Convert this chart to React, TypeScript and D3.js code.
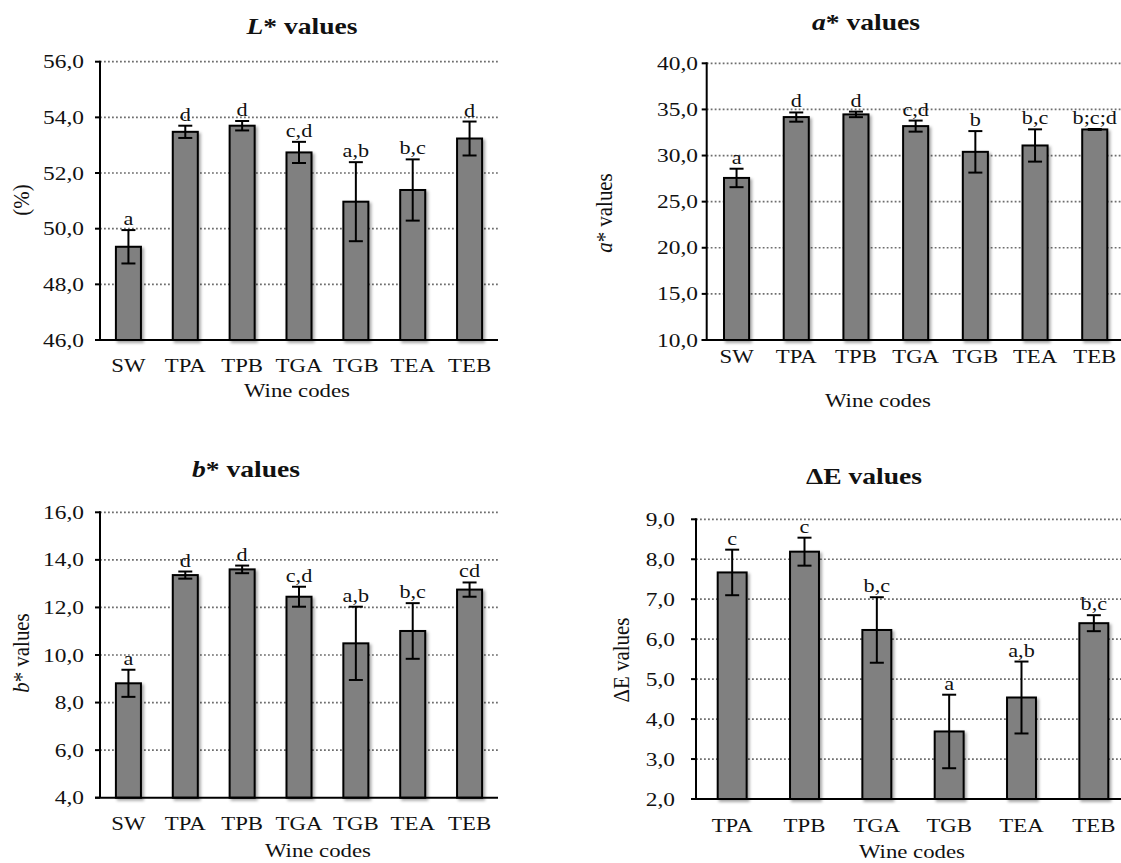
import React from "react";
import * as d3 from "d3";

// ---------- data ----------
const wineCodes = ["SW", "TPA", "TPB", "TGA", "TGB", "TEA", "TEB"];
const deltaCodes = ["TPA", "TPB", "TGA", "TGB", "TEA", "TEB"];

const lMeans = [49.35, 53.48, 53.7, 52.74, 50.97, 51.39, 53.24];
const lErrors = [0.6, 0.22, 0.17, 0.38, 1.42, 1.1, 0.61];
const lLetters = ["a", "d", "d", "c,d", "a,b", "b,c", "d"];
const lTicks = [46, 48, 50, 52, 54, 56];

const aMeans = [27.57, 34.17, 34.46, 33.19, 30.4, 31.09, 32.83];
const aErrors = [1.0, 0.5, 0.3, 0.6, 2.25, 1.75, 0.05];
const aLetters = ["a", "d", "d", "c,d", "b", "b,c", "b;c;d"];
const aTicks = [10, 15, 20, 25, 30, 35, 40];

const bMeans = [8.81, 13.36, 13.6, 12.45, 10.49, 11.01, 12.75];
const bErrors = [0.57, 0.15, 0.16, 0.42, 1.54, 1.17, 0.3];
const bLetters = ["a", "d", "d", "c,d", "a,b", "b,c", "cd"];
const bTicks = [4, 6, 8, 10, 12, 14, 16];

const eMeans = [7.67, 8.19, 6.23, 3.69, 4.54, 6.4];
const eErrors = [0.57, 0.35, 0.82, 0.92, 0.9, 0.2];
const eLetters = ["c", "c", "b,c", "a", "a,b", "b,c"];
const eTicks = [2, 3, 4, 5, 6, 7, 8, 9];

// ---------- layout ----------
const FONT = "Liberation Serif, Times New Roman, serif";
const SX = 1.2;

type Panel = {
  cats: string[];
  means: number[];
  errs: number[];
  letters: string[];
  ticks: number[];
  title: React.ReactNode;
  ylabel: React.ReactNode;
  left: number;
  right: number;
  top: number;
  bottom: number;
  pad: number;
  titleX: number;
  titleY: number;
  ylabX: number;
  ylabY: number;
  tickRight: number;
  catY: number;
  wcX: number;
  wcY: number;
};

const panels: Panel[] = [
  {
    cats: wineCodes, means: lMeans, errs: lErrors, letters: lLetters, ticks: lTicks,
    title: (<><tspan fontStyle="italic">L</tspan>* values</>),
    ylabel: "(%)",
    left: 100, right: 498, top: 61.7, bottom: 340, pad: 0.56,
    titleX: 302, titleY: 34, ylabX: 29, ylabY: 200, tickRight: 84,
    catY: 372, wcX: 297, wcY: 397,
  },
  {
    cats: wineCodes, means: aMeans, errs: aErrors, letters: aLetters, ticks: aTicks,
    title: (<><tspan fontStyle="italic">a</tspan>* values</>),
    ylabel: (<><tspan fontStyle="italic">a</tspan>* values</>),
    left: 706.7, right: 1124.6, top: 63.3, bottom: 340, pad: 0.58,
    titleX: 866, titleY: 30, ylabX: 612, ylabY: 213, tickRight: 698,
    catY: 363, wcX: 878, wcY: 407,
  },
  {
    cats: wineCodes, means: bMeans, errs: bErrors, letters: bLetters, ticks: bTicks,
    title: (<><tspan fontStyle="italic">b</tspan>* values</>),
    ylabel: (<><tspan fontStyle="italic">b</tspan>* values</>),
    left: 100, right: 498, top: 512.3, bottom: 797.7, pad: 0.56,
    titleX: 246, titleY: 477, ylabX: 29, ylabY: 653, tickRight: 84,
    catY: 830, wcX: 318, wcY: 857,
  },
  {
    cats: deltaCodes, means: eMeans, errs: eErrors, letters: eLetters, ticks: eTicks,
    title: "ΔE values",
    ylabel: "ΔE values",
    left: 696, right: 1130, top: 519.3, bottom: 799, pad: 0.6,
    titleX: 864, titleY: 484, ylabX: 629, ylabY: 660, tickRight: 675,
    catY: 832, wcX: 912, wcY: 858,
  },
];

function Txt(props: {
  x: number; y: number; size: number; sx?: number; sy?: number; rotate?: number;
  anchor?: string; weight?: string | number; children: React.ReactNode;
}) {
  const { x, y, size, sx = SX, sy = 1, rotate = 0, anchor = "middle", weight = "normal", children } = props;
  return (
    <text
      transform={`translate(${x},${y}) rotate(${rotate}) scale(${sx},${sy})`}
      textAnchor={anchor}
      fontSize={size}
      fontWeight={weight}
      style={{ fontFamily: FONT }}
      fill="#111"
    >
      {children}
    </text>
  );
}

const fmt = (v: number) => d3.format(".1f")(v).replace(".", ",");

function BarPanel({ p }: { p: Panel }) {
  const x = d3.scaleBand<string>().domain(p.cats).range([p.left, p.right]).paddingInner(p.pad).paddingOuter(p.pad / 2);
  const y = d3.scaleLinear().domain([p.ticks[0], p.ticks[p.ticks.length - 1]]).range([p.bottom, p.top]);
  const bw = x.bandwidth();
  const cap = 7;
  return (
    <g>
      {p.ticks.slice(1).map((t) => (
        <line key={"g" + t} x1={p.left} x2={p.right} y1={y(t)} y2={y(t)}
          stroke="#6e6e6e" strokeWidth={1.7} strokeDasharray="1.8,2.2" />
      ))}
      {p.cats.map((c, i) => (
        <rect key={"b" + c} x={x(c)!} y={y(p.means[i])} width={bw} height={p.bottom - y(p.means[i])}
          fill="#808080" stroke="#000" strokeWidth={2} filter="url(#shadow)" />
      ))}
      {p.cats.map((c, i) => {
        const cx = x(c)! + bw / 2;
        const y1 = y(p.means[i] + p.errs[i]);
        const y2 = y(p.means[i] - p.errs[i]);
        return (
          <g key={"e" + c} stroke="#000" strokeWidth={2}>
            <line x1={cx} x2={cx} y1={y1} y2={y2} />
            <line x1={cx - cap} x2={cx + cap} y1={y1} y2={y1} />
            <line x1={cx - cap} x2={cx + cap} y1={y2} y2={y2} />
          </g>
        );
      })}
      {p.cats.map((c, i) => (
        <Txt key={"l" + c} x={x(c)! + bw / 2} y={y(p.means[i] + p.errs[i]) - 5} size={18.5}>
          {p.letters[i]}
        </Txt>
      ))}
      <line x1={p.left} x2={p.left} y1={p.top - 1} y2={p.bottom} stroke="#000" strokeWidth={2} />
      {p.ticks.map((t) => (
        <g key={"t" + t}>
          <line x1={p.left - 5} x2={p.left} y1={y(t)} y2={y(t)} stroke="#000" strokeWidth={2} />
          <Txt x={p.tickRight} y={y(t) + 6.5} size={19.5} anchor="end">{fmt(t)}</Txt>
        </g>
      ))}
      <line x1={p.left - 5} x2={p.right} y1={p.bottom} y2={p.bottom} stroke="#000" strokeWidth={2} />
      {p.cats.map((c) => (
        <Txt key={"c" + c} x={x(c)! + bw / 2} y={p.catY} size={19}>{c}</Txt>
      ))}
      <Txt x={p.wcX} y={p.wcY} size={19}>Wine codes</Txt>
      <Txt x={p.ylabX} y={p.ylabY} size={19} rotate={-90} sx={1.1} sy={1.2}>{p.ylabel}</Txt>
      <Txt x={p.titleX} y={p.titleY} size={23} weight="bold" sx={1.2}>{p.title}</Txt>
    </g>
  );
}

export default function App() {
  return (
    <svg width={1121} height={863} style={{ position: "absolute", left: 0, top: 0, background: "#fff" }}>
      <defs>
        <filter id="shadow" x="-30%" y="-10%" width="170%" height="130%">
          <feDropShadow dx="2" dy="2" stdDeviation="1.6" floodColor="#000" floodOpacity="0.35" />
        </filter>
      </defs>
      <rect x={0} y={0} width={1121} height={863} fill="#fff" />
      {panels.map((p, i) => (
        <BarPanel key={i} p={p} />
      ))}
    </svg>
  );
}
